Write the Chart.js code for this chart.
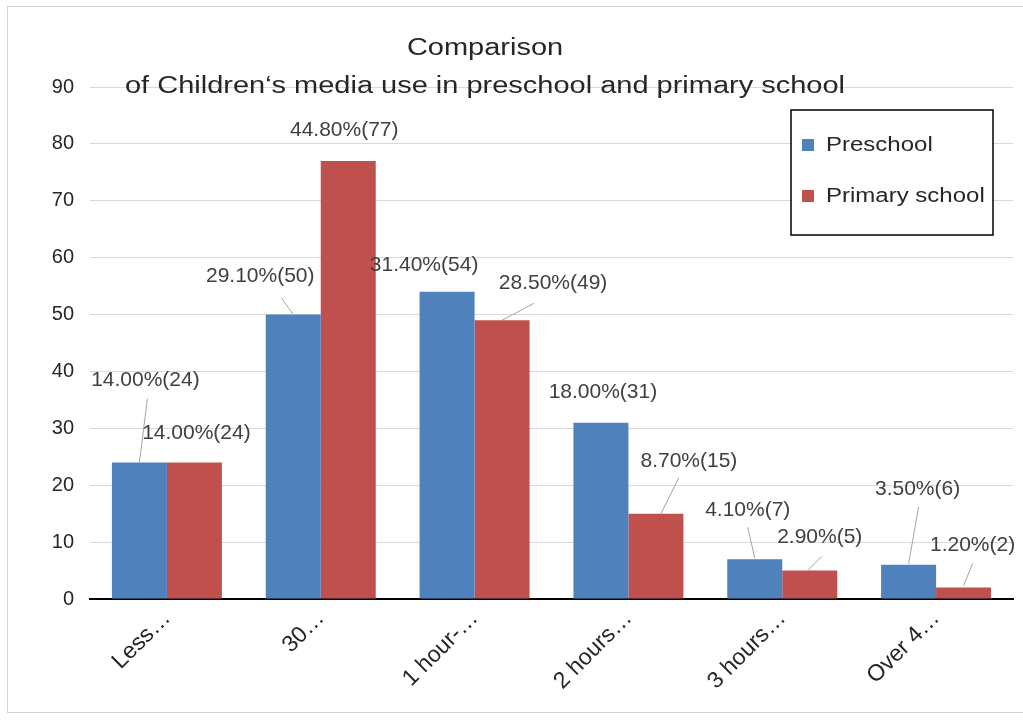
<!DOCTYPE html>
<html>
<head>
<meta charset="utf-8">
<script src="https://cdn.jsdelivr.net/npm/chart.js@4"></script>
<style>
  html, body { margin: 0; padding: 0; background: #fff; }
  #wrap { width: 1023px; height: 722px; position: relative; }
</style>
</head>
<body>
<div id="wrap"><canvas id="myChart" width="1023" height="722"></canvas></div>
<script>
// data
var categories = ["Less…", "30…", "1 hour-…", "2 hours…", "3 hours…", "Over 4…"];
var preschool = [24, 50, 54, 31, 7, 6];
var primary = [24, 77, 49, 15, 5, 2];
var preschoolPct = ["14.00", "29.10", "31.40", "18.00", "4.10", "3.50"];
var primaryPct = ["14.00", "44.80", "28.50", "8.70", "2.90", "1.20"];
var titleLines = ["Comparison", "of Children‘s media use in preschool and primary school"];

// where each data label sits relative to the top of its bar: [tx, ty, leader?]
// leader = [startX, startY, endX, endY] also relative to the bar top
var preLabelPos = [
  { t: [6, -82], l: [8, -64, 0, 0] },
  { t: [-33, -38], l: [-12, -17, 0, 0] },
  { t: [-23, -27] },
  { t: [2, -30] },
  { t: [-7, -49], l: [-7, -32, 0, -1] },
  { t: [9, -76], l: [10, -58, 0, -1] },
];
var priLabelPos = [
  { t: [2, -29] },
  { t: [-4, -31] },
  { t: [51, -37], l: [32, -17, 0, 0] },
  { t: [33, -52], l: [23, -36, 5, 0] },
  { t: [10, -33], l: [12, -14, -2, 0] },
  { t: [9, -42], l: [9, -24, 0, -2] },
];

var blue = "#4f81bd";
var red = "#c0504d";

var framePlugin = {
  id: "frame",
  beforeDraw: function (chart) {
    var c = chart.ctx;
    c.save();
    c.fillStyle = "#fff";
    c.fillRect(0, 0, chart.width, chart.height);
    c.strokeStyle = "#d4d4d4";
    c.lineWidth = 1;
    c.strokeRect(7.5, 6.5, 1030, 706);
    c.restore();
  },
};

var labelsPlugin = {
  id: "barLabels",
  afterDatasetsDraw: function (chart) {
    var c = chart.ctx;
    var pcts = [preschoolPct, primaryPct];
    var pos = [preLabelPos, priLabelPos];
    c.save();
    c.font = "21px 'Liberation Sans', Arial, sans-serif";
    c.textAlign = "center";
    c.textBaseline = "middle";
    chart.data.datasets.forEach(function (ds, di) {
      var meta = chart.getDatasetMeta(di);
      meta.data.forEach(function (bar, i) {
        var p = pos[di][i];
        if (p.l) {
          c.strokeStyle = "#a6a6a6";
          c.lineWidth = 1;
          c.beginPath();
          c.moveTo(bar.x + p.l[0], bar.y + p.l[1]);
          c.lineTo(bar.x + p.l[2], bar.y + p.l[3]);
          c.stroke();
        }
        c.fillStyle = "#404040";
        c.fillText(pcts[di][i] + "%(" + ds.data[i] + ")", bar.x + p.t[0], bar.y + p.t[1]);
      });
    });
    c.restore();
  },
};

var titleLegendPlugin = {
  id: "titleLegend",
  afterDraw: function (chart) {
    var c = chart.ctx;
    c.save();
    // title
    c.fillStyle = "#262626";
    c.font = "23px 'Liberation Sans', Arial, sans-serif";
    c.textAlign = "center";
    c.textBaseline = "middle";
    [49, 87].forEach(function (y, i) {
      c.save();
      c.translate(485, y);
      c.scale(1.26, 1);
      c.fillText(titleLines[i], 0, 0);
      c.restore();
    });
    // legend box
    c.fillStyle = "#fff";
    c.fillRect(791, 110, 202, 125);
    c.strokeStyle = "#000";
    c.lineWidth = 1.5;
    c.strokeRect(791, 110, 202, 125);
    c.textAlign = "left";
    c.font = "20px 'Liberation Sans', Arial, sans-serif";
    chart.data.datasets.forEach(function (ds, i) {
      var y = 145 + i * 51;
      c.fillStyle = ds.backgroundColor;
      c.fillRect(802, y - 6, 12, 12);
      c.fillStyle = "#262626";
      c.save();
      c.translate(826, y);
      c.scale(1.2, 1);
      c.fillText(ds.label, 0, 0);
      c.restore();
    });
    c.restore();
  },
};

var ctx = document.getElementById("myChart").getContext("2d");
var chart = new Chart(ctx, {
  type: "bar",
  data: {
    labels: categories,
    datasets: [
      { label: "Preschool", data: preschool, backgroundColor: blue },
      { label: "Primary school", data: primary, backgroundColor: red },
    ],
  },
  options: {
    responsive: false,
    animation: false,
    layout: { padding: { left: 0, top: 87, right: 10, bottom: 0 } },
    datasets: { bar: { categoryPercentage: 0.715, barPercentage: 1 } },
    plugins: {
      legend: { display: false },
      title: { display: false },
      tooltip: { enabled: false },
    },
    scales: {
      x: {
        grid: { display: false },
        border: { color: "#000", width: 2 },
        ticks: {
          autoSkip: false,
          minRotation: 45,
          maxRotation: 45,
          padding: -2,
          color: "#262626",
          font: { family: "'Liberation Sans', Arial, sans-serif", size: 23 },
        },
        afterFit: function (scale) {
          scale.height = 722 - 599;
        },
      },
      y: {
        min: 0,
        max: 90,
        ticks: {
          stepSize: 10,
          padding: 16,
          color: "#262626",
          font: { family: "'Liberation Sans', Arial, sans-serif", size: 20 },
        },
        grid: { color: "#d9d9d9", drawTicks: false },
        border: { display: false },
        afterFit: function (scale) {
          scale.width = 90;
        },
      },
    },
  },
  plugins: [framePlugin, labelsPlugin, titleLegendPlugin],
});
</script>
</body>
</html>
